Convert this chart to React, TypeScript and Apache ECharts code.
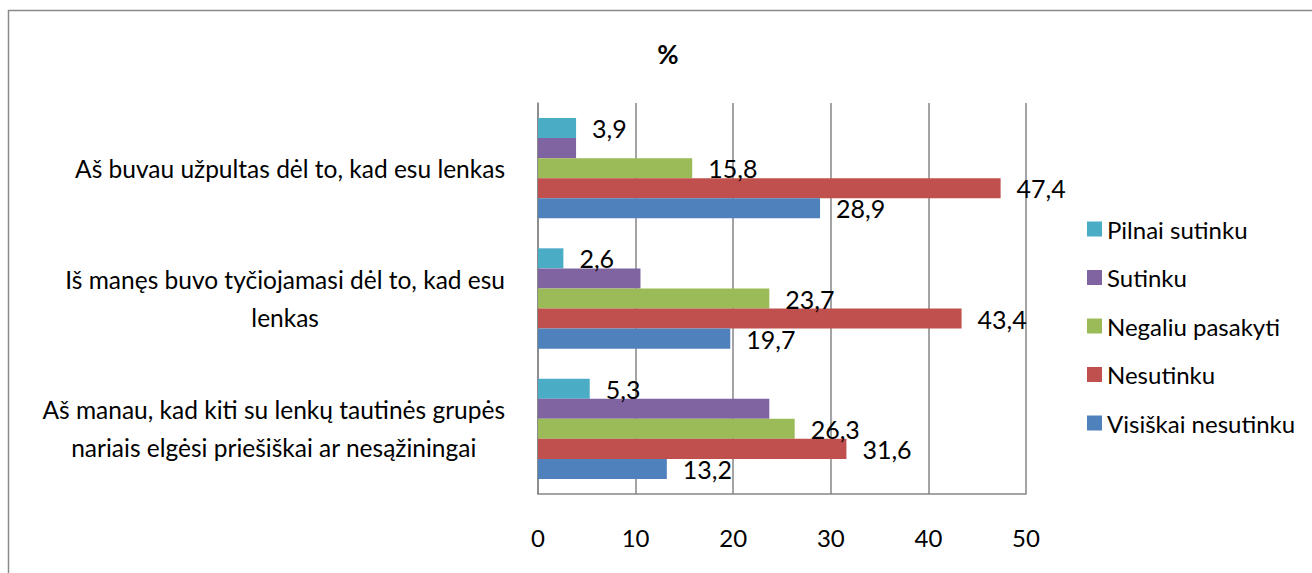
import React, { useEffect, useRef } from "react";
import * as echarts from "echarts";

const categories = [
  "Aš manau, kad kiti su lenkų tautinės grupės\nnariais elgėsi priešiškai ar nesąžiningai",
  "Iš manęs buvo tyčiojamasi dėl to, kad esu\nlenkas",
  "Aš buvau užpultas dėl to, kad esu lenkas",
];

const seriesNames = [
  "Pilnai sutinku",
  "Sutinku",
  "Negaliu pasakyti",
  "Nesutinku",
  "Visiškai nesutinku",
];

const pilnaiSutinku = [5.3, 2.6, 3.9];
const sutinku = [23.7, 10.5, 3.9];
const negaliuPasakyti = [26.3, 23.7, 15.8];
const nesutinku = [31.6, 43.4, 47.4];
const visiskaiNesutinku = [13.2, 19.7, 28.9];

const seriesValues = [pilnaiSutinku, sutinku, negaliuPasakyti, nesutinku, visiskaiNesutinku];
const seriesColors = ["#4BACC6", "#8064A2", "#9BBB59", "#C0504D", "#4F81BD"];
const showLabels = [true, false, true, true, true];

const xTicks = { min: 0, max: 50, interval: 10 };

const FONT = "Lato";

export default function App() {
  const ref = useRef<HTMLDivElement>(null);

  useEffect(() => {
    if (!ref.current) return;
    const chart = echarts.init(ref.current, null, { renderer: "svg" });
    const option: any = {
      animation: false,
      backgroundColor: "#ffffff",
      textStyle: { fontFamily: FONT },
      title: {
        text: "%",
        left: 663,
        top: 36,
        textAlign: "center",
        textStyle: { fontFamily: FONT, fontSize: 26, fontWeight: "bold", color: "#000" },
      },
      graphic: [
        {
          type: "rect",
          shape: { x: 8.5, y: 10.5, width: 1400, height: 700 },
          style: { fill: "none", stroke: "#8a8a8a", lineWidth: 1.5 },
          silent: true,
        },
      ],
      legend: {
        orient: "vertical",
        left: 1082,
        top: 212,
        itemWidth: 15,
        itemHeight: 15,
        itemGap: 24.5,
        icon: "rect",
        data: seriesNames,
        textStyle: { fontFamily: FONT, fontSize: 24, color: "#000" },
      },
      grid: { left: 538, right: 286, top: 103, bottom: 79 },
      xAxis: {
        type: "value",
        min: xTicks.min,
        max: xTicks.max,
        interval: xTicks.interval,
        axisLine: { show: true, lineStyle: { color: "#868686", width: 1.5 } },
        axisTick: { show: false },
        splitLine: { show: true, lineStyle: { color: "#868686", width: 1.5 } },
        axisLabel: { margin: 31, fontFamily: FONT, fontSize: 24, color: "#000" },
      },
      yAxis: {
        type: "category",
        data: categories,
        axisLine: { show: true, lineStyle: { color: "#868686", width: 1.5 } },
        axisTick: { show: false },
        axisLabel: {
          margin: 33,
          color: "#000",
          formatter: (v: string) =>
            v
              .split("\n")
              .map((l) => `{c|${l}}`)
              .join("\n"),
          rich: {
            c: { align: "center", fontFamily: FONT, fontSize: 24.5, lineHeight: 38, color: "#000" },
          },
        },
      },
      series: seriesNames.map((name, i) => ({
        name,
        type: "bar",
        data: seriesValues[i],
        barGap: "0%",
        barCategoryGap: "23%",
        itemStyle: { color: seriesColors[i] },
        label: {
          show: showLabels[i],
          position: "right",
          distance: 16,
          fontFamily: FONT,
          fontSize: 25,
          color: "#000",
          formatter: (p: any) => String(p.value).replace(".", ","),
        },
      })),
    };
    chart.setOption(option);
    return () => chart.dispose();
  }, []);

  return (
    <div
      ref={ref}
      style={{ position: "fixed", left: 0, top: 0, width: 1312, height: 573 }}
    />
  );
}
